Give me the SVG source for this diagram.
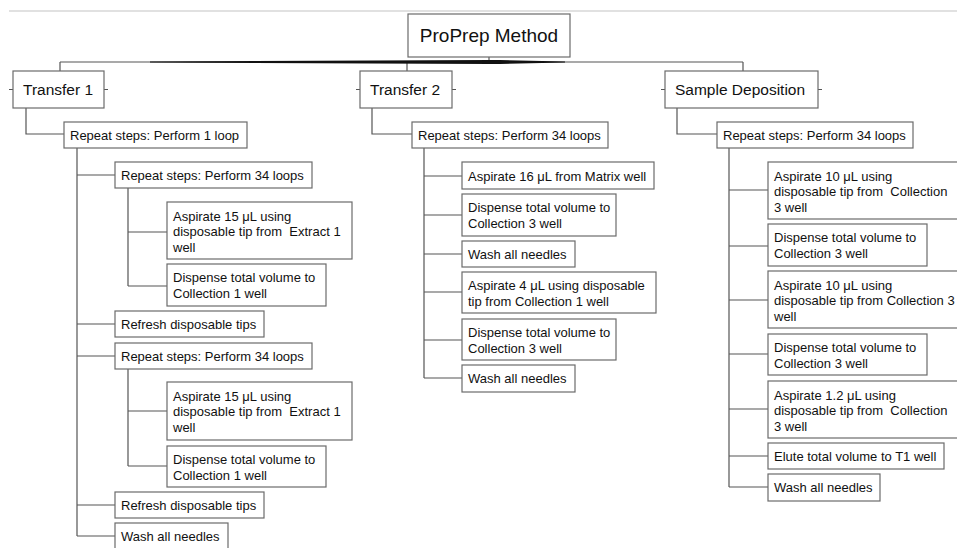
<svg xmlns="http://www.w3.org/2000/svg" width="957" height="548" viewBox="0 0 957 548">
<style>
.bx{fill:#fff;stroke:#6b6b6b;stroke-width:1.2}
.ln{fill:none;stroke:#555;stroke-width:1.2}
.t{font-family:"Liberation Sans",Arial,sans-serif;font-size:13px;fill:#111;white-space:pre}
.h{font-family:"Liberation Sans",Arial,sans-serif;font-size:15.5px;fill:#111}
.r{font-family:"Liberation Sans",Arial,sans-serif;font-size:19px;fill:#111}
</style>
<rect width="957" height="548" fill="#fff"/>
<line x1="9" y1="11" x2="957" y2="11" stroke="#c4c4c4" stroke-width="1.2"/>
<g id="connectors">
<path class="ln" d="M489,57V62M60,62H743M60,62V71M407,62V71M743,62V71"/>
<polygon points="150,61.6 489,60 500,60 565,61.6 565,62.4 500,64 489,64 150,62.4" fill="#111"/>
<path class="ln" d="M9,89.5H13M104,89.5H108M356,89.5H360M452,89.5H456M661,89.5H665M818,89.5H822"/>
<path class="ln" d="M26,108V134H64"/>
<path class="ln" d="M77,148V536M77,175H115M77,324H115M77,356H115M77,505H115M77,536H115"/>
<path class="ln" d="M128,188V286M128,232H167M128,286H167"/>
<path class="ln" d="M128,369V466M128,411H167M128,466H167"/>
<path class="ln" d="M372,108V134H412"/>
<path class="ln" d="M424,148V378M424,176H462M424,215H462M424,254H462M424,292H462M424,340H462M424,378H462"/>
<path class="ln" d="M677,108V134H717"/>
<path class="ln" d="M729,148V487M729,190H768M729,246H768M729,300H768M729,354H768M729,409H768M729,456H768M729,487H768"/>
</g>
<g id="root"><rect class="bx" x="408" y="14" width="162" height="43"/><text class="r" x="489" y="42" text-anchor="middle">ProPrep Method</text></g>
<g id="transfer1"><rect class="bx" x="13" y="71" width="91" height="37"/><text class="h" x="23" y="95">Transfer 1</text></g>
<g id="t1-repeat1"><rect class="bx" x="64" y="122" width="183" height="26"/><text class="t" x="70" y="140">Repeat steps: Perform 1 loop</text></g>
<g id="t1-repeat34a"><rect class="bx" x="115" y="162" width="197" height="26"/><text class="t" x="121" y="180">Repeat steps: Perform 34 loops</text></g>
<g id="t1-aspirate-a"><rect class="bx" x="167" y="202" width="185" height="57"/><text class="t" x="173" y="220.5">Aspirate 15 μL using<tspan x="173" dy="15.5">disposable tip from  Extract 1</tspan><tspan x="173" dy="15.5">well</tspan></text></g>
<g id="t1-dispense-a"><rect class="bx" x="167" y="264" width="159" height="42"/><text class="t" x="173" y="282">Dispense total volume to<tspan x="173" dy="15.5">Collection 1 well</tspan></text></g>
<g id="t1-refresh-a"><rect class="bx" x="115" y="311" width="149" height="26"/><text class="t" x="121" y="329">Refresh disposable tips</text></g>
<g id="t1-repeat34b"><rect class="bx" x="115" y="343" width="197" height="26"/><text class="t" x="121" y="361">Repeat steps: Perform 34 loops</text></g>
<g id="t1-aspirate-b"><rect class="bx" x="167" y="382" width="185" height="58"/><text class="t" x="173" y="400.5">Aspirate 15 μL using<tspan x="173" dy="15.5">disposable tip from  Extract 1</tspan><tspan x="173" dy="15.5">well</tspan></text></g>
<g id="t1-dispense-b"><rect class="bx" x="167" y="446" width="159" height="41"/><text class="t" x="173" y="464">Dispense total volume to<tspan x="173" dy="15.5">Collection 1 well</tspan></text></g>
<g id="t1-refresh-b"><rect class="bx" x="115" y="492" width="149" height="26"/><text class="t" x="121" y="510">Refresh disposable tips</text></g>
<g id="t1-wash"><rect class="bx" x="115" y="523" width="113" height="40"/><text class="t" x="121" y="541">Wash all needles</text></g>
<g id="transfer2"><rect class="bx" x="360" y="71" width="92" height="37"/><text class="h" x="370" y="95">Transfer 2</text></g>
<g id="t2-repeat"><rect class="bx" x="412" y="122" width="196" height="26"/><text class="t" x="418" y="140">Repeat steps: Perform 34 loops</text></g>
<g id="t2-aspirate16"><rect class="bx" x="462" y="162" width="192" height="27"/><text class="t" x="468" y="180.5">Aspirate 16 μL from Matrix well</text></g>
<g id="t2-dispense-a"><rect class="bx" x="462" y="194" width="154" height="42"/><text class="t" x="468" y="212">Dispense total volume to<tspan x="468" dy="15.5">Collection 3 well</tspan></text></g>
<g id="t2-wash-a"><rect class="bx" x="462" y="241" width="113" height="26"/><text class="t" x="468" y="259">Wash all needles</text></g>
<g id="t2-aspirate4"><rect class="bx" x="462" y="272" width="194" height="41"/><text class="t" x="468" y="290">Aspirate 4 μL using disposable<tspan x="468" dy="15.5">tip from Collection 1 well</tspan></text></g>
<g id="t2-dispense-b"><rect class="bx" x="462" y="319" width="154" height="41"/><text class="t" x="468" y="337">Dispense total volume to<tspan x="468" dy="15.5">Collection 3 well</tspan></text></g>
<g id="t2-wash-b"><rect class="bx" x="462" y="365" width="113" height="27"/><text class="t" x="468" y="383">Wash all needles</text></g>
<g id="sampledep"><rect class="bx" x="665" y="71" width="153" height="37"/><text class="h" x="675" y="95">Sample Deposition</text></g>
<g id="sd-repeat"><rect class="bx" x="717" y="122" width="196" height="26"/><text class="t" x="723" y="140">Repeat steps: Perform 34 loops</text></g>
<g id="sd-aspirate10a"><rect class="bx" x="768" y="162" width="200" height="57"/><text class="t" x="774" y="180.5">Aspirate 10 μL using<tspan x="774" dy="15.5">disposable tip from  Collection</tspan><tspan x="774" dy="15.5">3 well</tspan></text></g>
<g id="sd-dispense-a"><rect class="bx" x="768" y="224" width="159" height="42"/><text class="t" x="774" y="242">Dispense total volume to<tspan x="774" dy="15.5">Collection 3 well</tspan></text></g>
<g id="sd-aspirate10b"><rect class="bx" x="768" y="271" width="200" height="57"/><text class="t" x="774" y="289.5">Aspirate 10 μL using<tspan x="774" dy="15.5">disposable tip from Collection 3</tspan><tspan x="774" dy="15.5">well</tspan></text></g>
<g id="sd-dispense-b"><rect class="bx" x="768" y="334" width="159" height="41"/><text class="t" x="774" y="352">Dispense total volume to<tspan x="774" dy="15.5">Collection 3 well</tspan></text></g>
<g id="sd-aspirate12"><rect class="bx" x="768" y="381" width="200" height="57"/><text class="t" x="774" y="399.5">Aspirate 1.2 μL using<tspan x="774" dy="15.5">disposable tip from  Collection</tspan><tspan x="774" dy="15.5">3 well</tspan></text></g>
<g id="sd-elute"><rect class="bx" x="768" y="443" width="176" height="26"/><text class="t" x="774" y="461">Elute total volume to T1 well</text></g>
<g id="sd-wash"><rect class="bx" x="768" y="474" width="112" height="27"/><text class="t" x="774" y="492">Wash all needles</text></g>
</svg>
